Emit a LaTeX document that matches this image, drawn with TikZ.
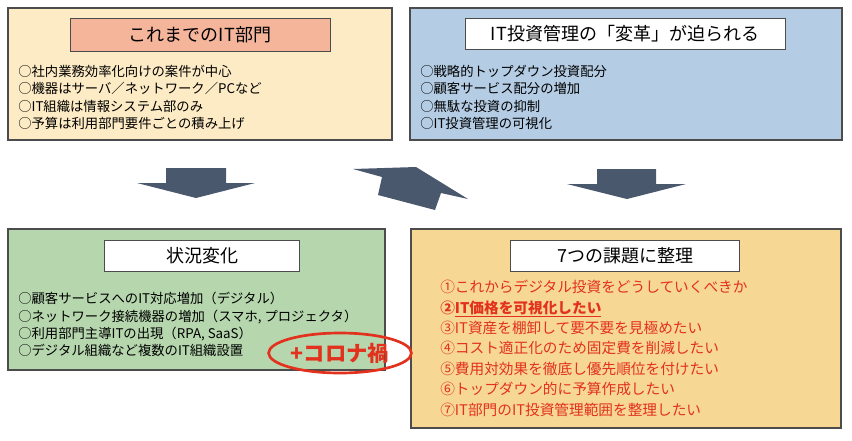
\documentclass[tikz,border=0pt]{standalone}
\usepackage{fontspec}
\setmainfont{Noto Sans CJK JP}
\usepackage{tikz}
\usetikzlibrary{positioning,shapes}
\definecolor{cYellow}{HTML}{FCEBC4}
\definecolor{cBlue}{HTML}{B4CCE4}
\definecolor{cGreen}{HTML}{B6D7AE}
\definecolor{cOrange}{HTML}{F7D794}
\definecolor{cSalmon}{HTML}{F4B59B}
\definecolor{cArrow}{HTML}{4A586E}
\definecolor{cRed}{HTML}{E2311D}
\begin{document}
\begin{tikzpicture}[
    x=0.75pt, y=-0.75pt,
    panel/.style={draw=black!70, line width=0.8pt},
    title/.style={draw=black!70, fill=white, line width=0.6pt, font=\fontsize{13.5}{15}\selectfont, inner sep=3pt},
    items/.style={align=left, anchor=north west, font=\fontsize{10}{13}\selectfont, inner sep=0pt},
    bigarrow/.style={fill=cArrow, draw=none}
]
    \useasboundingbox (0,0) rectangle (852,440);
    % panels
    \draw[panel, fill=cYellow] (8,8) rectangle (392,140);
    \draw[panel, fill=cBlue] (410,8) rectangle (842,140);
    \draw[panel, fill=cGreen] (8,229) rectangle (385,370);
    \draw[panel, fill=cOrange] (411,229) rectangle (841,428);
    % titles
    \node[title, fill=cSalmon, minimum width=195pt, minimum height=25pt] (past) at (200,35) {これまでのIT部門};
    \node[title, minimum width=240pt, minimum height=23pt] (reform) at (625,34) {IT投資管理の「変革」が迫られる};
    \node[title, minimum width=146pt, minimum height=23pt] (change) at (202,256) {状況変化};
    \node[title, minimum width=172pt, minimum height=23pt] (tasks) at (625,256) {7つの課題に整理};
    % contents
    \node[items] (pastlist) at (18,65) {○社内業務効率化向けの案件が中心\\○機器はサーバ／ネットワーク／PCなど\\○IT組織は情報システム部のみ\\○予算は利用部門要件ごとの積み上げ};
    \node[items] (reformlist) at (420,65) {○戦略的トップダウン投資配分\\○顧客サービス配分の増加\\○無駄な投資の抑制\\○IT投資管理の可視化};
    \node[items] (changelist) at (18,292) {○顧客サービスへのIT対応増加（デジタル）\\○ネットワーク接続機器の増加（スマホ, プロジェクタ）\\○利用部門主導ITの出現（RPA, SaaS）\\○デジタル組織など複数のIT組織設置};
    \node[items, text=cRed, font=\fontsize{11}{15.3}\selectfont] (tasklist) at (440,280) {①これからデジタル投資をどうしていくべきか\\\textbf{②\underline{IT価格を可視化したい}}\\③IT資産を棚卸して要不要を見極めたい\\④コスト適正化のため固定費を削減したい\\⑤費用対効果を徹底し優先順位を付けたい\\⑥トップダウン的に予算作成したい\\⑦IT部門のIT投資管理範囲を整理したい};
    % corona mark
    \node[draw=cRed, line width=2pt, ellipse, inner sep=1pt, minimum width=80pt, minimum height=30pt, text=cRed, font=\fontsize{16}{18}\bfseries] (corona) at (340,353) {+コロナ禍};
    % arrows
    \fill[bigarrow] (166,168) -- (226,168) -- (226,183) -- (255,183) -- (196,198) -- (137,183) -- (166,183) -- cycle;
    \fill[bigarrow] (597,169) -- (656,169) -- (656,184) -- (686,184) -- (627,199) -- (567,184) -- (597,184) -- cycle;
    \fill[bigarrow] (353,169) -- (416,167) -- (468,199) -- (441,193) -- (435,210) -- (378,195) -- (382,177) -- cycle;
\end{tikzpicture}
\end{document}
